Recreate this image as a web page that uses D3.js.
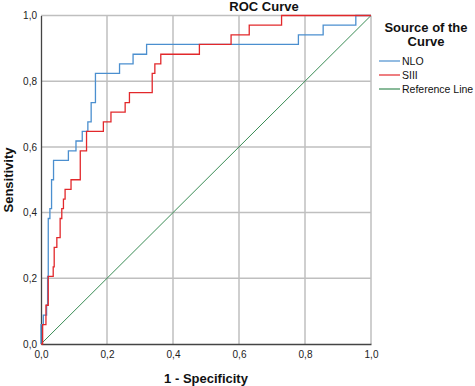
<!doctype html>
<html>
<head>
<meta charset="utf-8">
<title>ROC Curve</title>
<script src="https://d3js.org/d3.v7.min.js"></script>
<style>
  body { margin: 0; background: #fff; }
  svg { display: block; font-family: "Liberation Sans", Arial, sans-serif; }
  .tick text { font-size: 10px; fill: #222; }
  .grid line { stroke: #bfbfbf; stroke-width: 1.5; }
  .ttl { font-weight: bold; font-size: 13px; fill: #111; }
  .leg { font-size: 10.5px; fill: #111; }
</style>
</head>
<body>
<script>
// corner points of the step curves (1 - specificity, sensitivity)
var nloFpr = [0, 0, 0.007, 0.017, 0.020, 0.022, 0.027, 0.032, 0.038, 0.083, 0.106, 0.125, 0.142, 0.152, 0.165, 0.238, 0.279, 0.320, 0.780, 0.855, 0.954, 1];
var nloTpr = [0, 0.059, 0.088, 0.118, 0.206, 0.382, 0.412, 0.500, 0.559, 0.588, 0.618, 0.647, 0.676, 0.735, 0.824, 0.853, 0.882, 0.912, 0.941, 0.971, 1, 1];

var siiiFpr = [0, 0.005, 0.015, 0.022, 0.037, 0.040, 0.048, 0.058, 0.063, 0.068, 0.073, 0.091, 0.119, 0.138, 0.189, 0.212, 0.255, 0.268, 0.337, 0.345, 0.363, 0.480, 0.576, 0.631, 0.729, 1];
var siiiTpr = [0, 0.059, 0.118, 0.206, 0.235, 0.294, 0.324, 0.382, 0.412, 0.441, 0.471, 0.500, 0.588, 0.647, 0.676, 0.706, 0.735, 0.765, 0.824, 0.853, 0.882, 0.912, 0.941, 0.971, 1, 1];

var refLine = [0, 1];
var tickVals = [0, 0.2, 0.4, 0.6, 0.8, 1.0];
var seriesNames = ["NLO", "SIII", "Reference Line"];
var seriesColors = ["#4b8fcf", "#e2282b", "#3a8c55"];

var width = 475, height = 386;
var svg = d3.select("body").append("svg")
    .attr("width", width).attr("height", height);

var x = d3.scaleLinear().domain([0, 1]).range([41, 371]);
var y = d3.scaleLinear().domain([0, 1]).range([344, 15.5]);

var fmt = d3.formatLocale({decimal: ",", thousands: ".", grouping: [3], currency: ["", ""]}).format(".1f");

// grid
var grid = svg.append("g").attr("class", "grid");
grid.selectAll("line.v").data(tickVals.slice(1)).enter().append("line")
    .attr("class", "v")
    .attr("x1", function(d) { return x(d); }).attr("x2", function(d) { return x(d); })
    .attr("y1", y(0)).attr("y2", y(1));
grid.selectAll("line.h").data(tickVals.slice(1)).enter().append("line")
    .attr("class", "h")
    .attr("y1", function(d) { return y(d); }).attr("y2", function(d) { return y(d); })
    .attr("x1", x(0)).attr("x2", x(1));

// axes
var xAxis = svg.append("g").attr("transform", "translate(0," + y(0) + ")")
  .call(d3.axisBottom(x).tickValues(tickVals).tickFormat(fmt).tickSize(0).tickPadding(5));
var yAxis = svg.append("g").attr("transform", "translate(" + x(0) + ",0)")
  .call(d3.axisLeft(y).tickValues(tickVals).tickFormat(fmt).tickSize(0).tickPadding(4));
xAxis.select(".domain").attr("stroke", "#444").attr("stroke-width", 1.3);
yAxis.select(".domain").attr("stroke", "#444").attr("stroke-width", 1.3);
xAxis.selectAll(".tick text").attr("dy", "0.9em");

// reference line
svg.append("path")
  .attr("d", "M" + x(refLine[0]) + "," + y(refLine[0]) + "L" + x(refLine[1]) + "," + y(refLine[1]))
  .attr("fill", "none")
  .attr("stroke", seriesColors[2]).attr("stroke-width", 1);

var line = d3.line()
  .x(function(d) { return x(d[0]); })
  .y(function(d) { return y(d[1]); })
  .curve(d3.curveStepAfter);

svg.append("path")
  .datum(d3.zip(nloFpr, nloTpr))
  .attr("d", line).attr("fill", "none")
  .attr("stroke", seriesColors[0]).attr("stroke-width", 1.3);

svg.append("path")
  .datum(d3.zip(siiiFpr, siiiTpr))
  .attr("d", line).attr("fill", "none")
  .attr("stroke", seriesColors[1]).attr("stroke-width", 1.3);

// titles
svg.append("text").attr("class", "ttl").attr("x", 264).attr("y", 10.5)
  .attr("text-anchor", "middle").text("ROC Curve");
svg.append("text").attr("class", "ttl").attr("x", 206).attr("y", 383)
  .attr("text-anchor", "middle").text("1 - Specificity");
svg.append("text").attr("class", "ttl")
  .attr("transform", "translate(13,180) rotate(-90)")
  .attr("text-anchor", "middle").text("Sensitivity");

// legend
svg.append("text").attr("class", "ttl").attr("x", 426).attr("y", 32)
  .attr("text-anchor", "middle").text("Source of the");
svg.append("text").attr("class", "ttl").attr("x", 426).attr("y", 45.5)
  .attr("text-anchor", "middle").text("Curve");

var leg = svg.selectAll("g.legi").data(seriesNames).enter().append("g")
  .attr("class", "legi")
  .attr("transform", function(d, i) { return "translate(0," + (61 + i * 14) + ")"; });
leg.append("line").attr("x1", 379).attr("x2", 400).attr("y1", 0).attr("y2", 0)
  .attr("stroke", function(d, i) { return seriesColors[i]; }).attr("stroke-width", 1.2);
leg.append("text").attr("class", "leg").attr("x", 402).attr("y", 4)
  .text(function(d) { return d; });
</script>
</body>
</html>
